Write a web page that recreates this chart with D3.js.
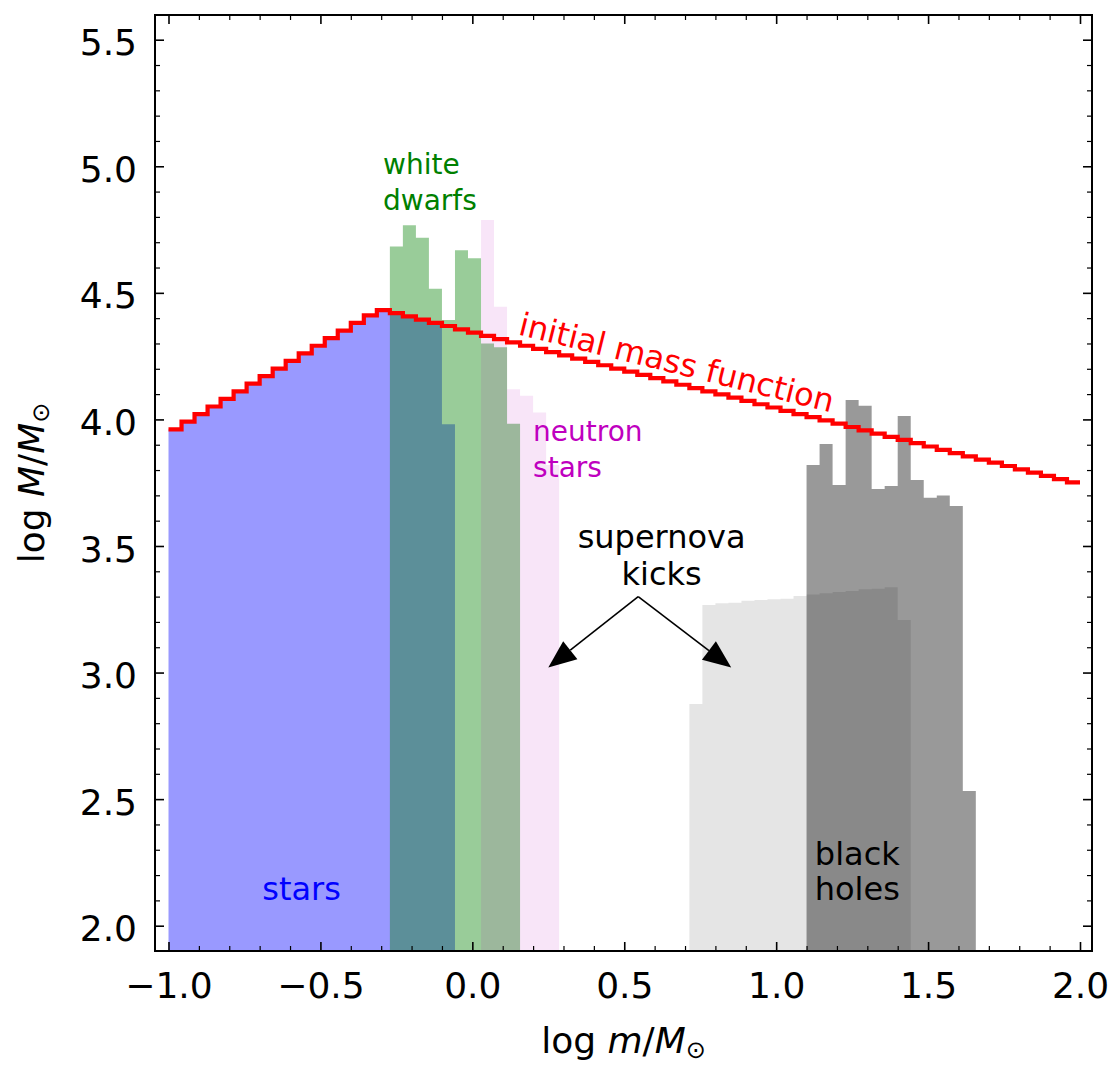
<!DOCTYPE html>
<html><head><meta charset="utf-8">
<script src="https://cdn.jsdelivr.net/npm/d3@7"></script>
<style>body{margin:0;background:#fff} text{font-family:"DejaVu Sans",sans-serif}</style>
</head><body><svg id="c" width="1113" height="1066"></svg>
<script>
// ---- data (log m bins, log M values) ----
const binEdges = [-1.0000,-0.9571,-0.9143,-0.8714,-0.8286,-0.7857,-0.7429,-0.7000,-0.6571,-0.6143,
 -0.5714,-0.5286,-0.4857,-0.4429,-0.4000,-0.3571,-0.3143,-0.2714,-0.2286,-0.1857,
 -0.1429,-0.1000,-0.0571,-0.0143,0.0286,0.0714,0.1143,0.1571,0.2000,0.2429,
 0.2857,0.3286,0.3714,0.4143,0.4571,0.5000,0.5429,0.5857,0.6286,0.6714,
 0.7143,0.7571,0.8000,0.8429,0.8857,0.9286,0.9714,1.0143,1.0571,1.1000,
 1.1429,1.1857,1.2286,1.2714,1.3143,1.3571,1.4000,1.4429,1.4857,1.5286,
 1.5714,1.6143,1.6571,1.7000,1.7429,1.7857,1.8286,1.8714,1.9143,1.9571,2.0000];
const imfMass = [3.961,3.991,4.021,4.051,4.081,4.111,4.141,4.171,4.201,4.231,4.261,4.291,4.321,4.351,4.381,4.411,
 4.432,4.420,4.407,4.394,4.381,4.369,4.356,4.343,4.330,4.317,4.304,4.291,4.279,4.266,4.253,4.240,4.227,4.214,4.201,
 4.189,4.176,4.163,4.150,4.137,4.124,4.111,4.099,4.086,4.073,4.060,4.047,4.034,4.021,4.009,3.996,3.983,3.970,3.957,
 3.944,3.931,3.919,3.906,3.893,3.880,3.867,3.854,3.841,3.829,3.816,3.803,3.790,3.777,3.764,3.751];
const starsStart = 0;
const starsMass = [3.961,3.991,4.021,4.051,4.081,4.111,4.141,4.171,4.201,4.231,4.261,4.291,4.321,4.351,4.381,4.411,
 4.432,4.420,4.407,4.394,4.381,3.981];
const wdStart = 17;
const wdMass = [4.683,4.767,4.718,4.516,4.393,4.668,4.637,4.300,4.285,3.983];
const nsStart = 24;
const nsMass = [4.788,4.445,4.119,4.093,4.027,3.820];
const kickStart = 40;
const kickMass = [2.876,3.267,3.274,3.276,3.284,3.287,3.290,3.292,3.302,3.308,3.313,3.318,3.322,3.329,3.331,3.337,3.208];
const bhStart = 49;
const bhMass = [3.820,3.903,3.741,4.077,4.054,3.725,3.737,4.013,3.761,3.691,3.699,3.658,2.532];
const xTicks = [-1.0,-0.5,0.0,0.5,1.0,1.5,2.0];
const yTicks = [2.0,2.5,3.0,3.5,4.0,4.5,5.0,5.5];

// ---- layout ----
const svg = d3.select("#c");
const L=155, R=1092, T=15, B=951;
const x = d3.scaleLinear().domain([-1,2]).range([168.5,1080]);
const y = d3.scaleLinear().domain([2,5.5]).range([925.7,39.7]);
const FONT = '"DejaVu Sans", sans-serif';

svg.append("defs").append("clipPath").attr("id","clip")
  .append("rect").attr("x",L).attr("y",T).attr("width",R-L).attr("height",B-T);

function stepPts(start, vals){
  const p = vals.map((v,i)=>[binEdges[start+i], v]);
  p.push([binEdges[start+vals.length], vals[vals.length-1]]);
  return p;
}
const area = d3.area().x(d=>x(d[0])).y0(B+5).y1(d=>y(d[1])).curve(d3.curveStepAfter);
const plot = svg.append("g").attr("clip-path","url(#clip)");
const series = [
  [starsStart, starsMass, "#0000ff", 0.4],
  [wdStart, wdMass, "#008000", 0.4],
  [nsStart, nsMass, "#bf00bf", 0.1],
  [kickStart, kickMass, "#000000", 0.1],
  [bhStart, bhMass, "#000000", 0.4]
];
series.forEach(([s,v,c,a])=>{
  plot.append("path").attr("d", area(stepPts(s,v))).attr("fill",c).attr("fill-opacity",a);
});
const line = d3.line().x(d=>x(d[0])).y(d=>y(d[1])).curve(d3.curveStepAfter);
plot.append("path").attr("d", line(stepPts(0, imfMass))).attr("fill","none")
  .attr("stroke","#ff0000").attr("stroke-width",4.2).attr("stroke-linejoin","miter");

// ---- annotations ----
function label(lines, xv, yv, size, color, anchor, lh){
  const t = svg.append("text").attr("font-family",FONT).attr("font-size",size)
    .attr("fill",color).attr("text-anchor",anchor);
  lines.forEach((s,i)=>t.append("tspan").attr("x",x(xv)).attr("y",y(yv)+i*lh).text(s));
}
label(["white","dwarfs"], -0.294, 4.970, 28, "#008000", "start", 36);
label(["neutron","stars"], 0.200, 3.915, 28, "#bf00bf", "start", 36);
label(["stars"], -0.562, 2.100, 32, "#0000ff", "middle", 36);
label(["black","holes"], 1.267, 2.240, 32, "#000000", "middle", 35);
label(["supernova","kicks"], 0.623, 3.491, 32, "#000000", "middle", 37);

svg.append("text").attr("font-family",FONT).attr("font-size",32).attr("fill","#ff0000")
  .attr("text-anchor","middle")
  .attr("transform",`translate(${x(0.664)},${y(4.182)}) rotate(14)`)
  .text("initial mass function");

// arrows
const arrowFrom = [0.546, 3.300];
const arrowTo = [[0.250, 3.020],[0.852, 3.020]];
arrowTo.forEach(tp=>{
  const sx=x(arrowFrom[0]), sy=y(arrowFrom[1]), tx=x(tp[0]), ty=y(tp[1]);
  const dx=tx-sx, dy=ty-sy, len=Math.hypot(dx,dy), ux=dx/len, uy=dy/len;
  const hl=28, hw=11.5;
  const bx=tx-ux*hl, by=ty-uy*hl;
  svg.append("line").attr("x1",sx).attr("y1",sy).attr("x2",bx).attr("y2",by)
    .attr("stroke","#000").attr("stroke-width",1.6);
  svg.append("path").attr("d",`M${tx},${ty}L${bx-uy*hw},${by+ux*hw}L${bx+uy*hw},${by-ux*hw}Z`)
    .attr("fill","#000");
});

// ---- axes ----
const minorX = d3.range(-10,21).map(i=>i/10).filter(v=>Math.abs(v*2-Math.round(v*2))>1e-6);
const minorY = d3.range(20,56).map(i=>i/10).filter(v=>Math.abs(v*2-Math.round(v*2))>1e-6);
function styleAxis(g, w){
  g.select(".domain").remove();
  g.selectAll(".tick line").attr("stroke","#000").attr("stroke-width",w);
  g.attr("font-family",FONT).attr("font-size",36);
  g.selectAll("text").attr("fill","#000");
}
const gb = svg.append("g").attr("transform",`translate(0,${B})`)
  .call(d3.axisBottom(x).tickValues(xTicks).tickFormat(d3.format(".1f")).tickSize(-9).tickSizeOuter(0).tickPadding(21));
styleAxis(gb,1.6);
const gbm = svg.append("g").attr("transform",`translate(0,${B})`)
  .call(d3.axisBottom(x).tickValues(minorX).tickFormat("").tickSize(-5).tickSizeOuter(0));
styleAxis(gbm,1.2);
const gt = svg.append("g").attr("transform",`translate(0,${T})`)
  .call(d3.axisTop(x).tickValues(xTicks).tickFormat("").tickSize(-9).tickSizeOuter(0));
styleAxis(gt,1.6);
const gtm = svg.append("g").attr("transform",`translate(0,${T})`)
  .call(d3.axisTop(x).tickValues(minorX).tickFormat("").tickSize(-5).tickSizeOuter(0));
styleAxis(gtm,1.2);
const gl = svg.append("g").attr("transform",`translate(${L},0)`)
  .call(d3.axisLeft(y).tickValues(yTicks).tickFormat(d3.format(".1f")).tickSize(-9).tickSizeOuter(0).tickPadding(18));
styleAxis(gl,1.6);
gl.selectAll("text").attr("dy","0.42em");
const glm = svg.append("g").attr("transform",`translate(${L},0)`)
  .call(d3.axisLeft(y).tickValues(minorY).tickFormat("").tickSize(-5).tickSizeOuter(0));
styleAxis(glm,1.2);
const gr = svg.append("g").attr("transform",`translate(${R},0)`)
  .call(d3.axisRight(y).tickValues(yTicks).tickFormat("").tickSize(-9).tickSizeOuter(0));
styleAxis(gr,1.6);
const grm = svg.append("g").attr("transform",`translate(${R},0)`)
  .call(d3.axisRight(y).tickValues(minorY).tickFormat("").tickSize(-5).tickSizeOuter(0));
styleAxis(grm,1.2);

svg.append("rect").attr("x",L).attr("y",T).attr("width",R-L).attr("height",B-T)
  .attr("fill","none").attr("stroke","#000").attr("stroke-width",2);

// axis labels
function mathLabel(t, first){
  t.append("tspan").text("log ");
  t.append("tspan").attr("font-style","italic").text(first);
  t.append("tspan").text("/");
  t.append("tspan").attr("font-style","italic").text("M");
  t.append("tspan").attr("font-size",24).attr("dy",5).text("⊙");
}
const xl = svg.append("text").attr("font-family",FONT).attr("font-size",36).attr("text-anchor","middle")
  .attr("x",(L+R)/2).attr("y",1053);
mathLabel(xl,"m");
const yl = svg.append("text").attr("font-family",FONT).attr("font-size",36).attr("text-anchor","middle")
  .attr("transform",`translate(44,${(T+B)/2}) rotate(-90)`);
mathLabel(yl,"M");
</script></body></html>
